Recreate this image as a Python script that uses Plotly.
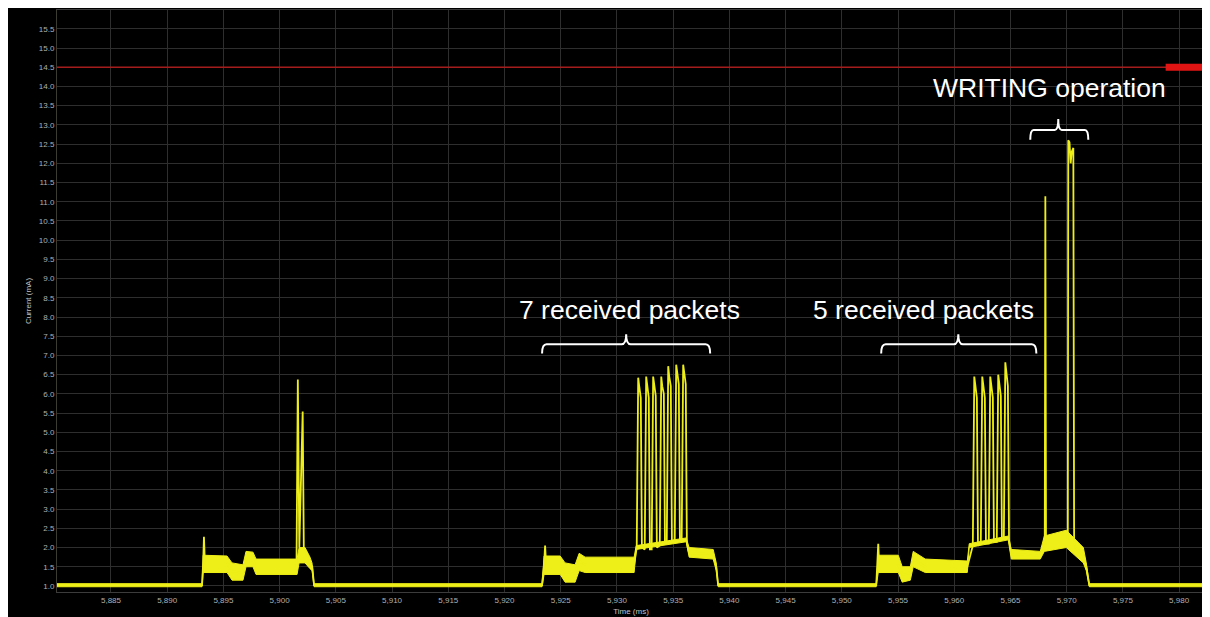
import plotly.graph_objects as go

# ---------------- data ----------------
x_tick_values = [5885, 5890, 5895, 5900, 5905, 5910, 5915, 5920, 5925, 5930,
                 5935, 5940, 5945, 5950, 5955, 5960, 5965, 5970, 5975, 5980]
x_tick_labels = ["5,885", "5,890", "5,895", "5,900", "5,905", "5,910", "5,915", "5,920",
                 "5,925", "5,930", "5,935", "5,940", "5,945", "5,950", "5,955", "5,960",
                 "5,965", "5,970", "5,975", "5,980"]

# envelope of the noisy current band (time ms, lower / upper current mA)
band_time = [5880.2, 5893.10, 5893.20, 5895.32, 5895.77, 5896.74, 5897.01, 5897.63, 5897.90,
             5901.55, 5901.73, 5902.26, 5902.70, 5902.88, 5903.06,
             5923.34, 5923.52, 5924.95, 5925.39, 5926.28, 5926.64, 5927.17, 5931.53, 5931.71,
             5936.16, 5936.42, 5938.56, 5938.83, 5939.00,
             5953.06, 5953.24, 5955.02, 5955.37, 5956.09, 5956.35, 5957.42, 5961.16, 5961.33,
             5964.80, 5965.07, 5967.65, 5968.01, 5969.96, 5970.77, 5971.48, 5971.74, 5972.01, 5982.3]
band_low = [0.98, 0.98, 1.35, 1.35, 1.15, 1.15, 1.5, 1.5, 1.3,
            1.3, 1.6, 1.6, 1.45, 1.4, 0.98,
            0.98, 1.3, 1.3, 1.1, 1.1, 1.4, 1.35, 1.35, 1.95,
            2.15, 1.75, 1.7, 1.4, 0.98,
            0.98, 1.35, 1.35, 1.1, 1.15, 1.5, 1.35, 1.35, 2.0,
            2.2, 1.7, 1.7, 1.9, 2.0, 1.8, 1.6, 1.4, 0.98, 0.98]
band_high = [1.06, 1.06, 1.8, 1.78, 1.6, 1.55, 1.9, 1.88, 1.7,
             1.7, 2.0, 2.0, 1.75, 1.6, 1.06,
             1.06, 1.78, 1.78, 1.6, 1.55, 1.85, 1.75, 1.75, 2.05,
             2.25, 2.0, 1.95, 1.6, 1.06,
             1.06, 1.8, 1.8, 1.5, 1.5, 1.9, 1.7, 1.65, 2.1,
             2.3, 1.95, 1.9, 2.3, 2.45, 2.2, 2.0, 1.6, 1.06, 1.06]

# trace centre line with spikes and packets (time ms, current mA)
trace_time_ms = [
    5880.2, 5893.10, 5893.20, 5893.27, 5893.35, 5895.3, 5895.8, 5896.7, 5897.0, 5897.6, 5897.9,
    5901.5, 5901.62, 5901.75, 5902.05, 5902.15, 5902.4, 5902.7, 5902.9, 5903.06,
    5923.34, 5923.52, 5923.61, 5923.7, 5924.95, 5925.4, 5926.3, 5926.6, 5927.2, 5931.53,
    5931.76, 5931.89, 5931.98, 5932.12, 5932.22,
    5932.47, 5932.60, 5932.69, 5932.83, 5932.93,
    5933.09, 5933.22, 5933.31, 5933.45, 5933.55,
    5933.81, 5933.94, 5934.03, 5934.17, 5934.27,
    5934.43, 5934.56, 5934.65, 5934.79, 5934.89,
    5935.14, 5935.27, 5935.36, 5935.50, 5935.60,
    5935.76, 5935.89, 5935.98, 5936.12, 5936.22,
    5936.42, 5938.56, 5938.83, 5939.00,
    5953.06, 5953.15, 5953.24, 5953.32, 5955.0, 5955.4, 5956.1, 5956.35, 5957.4, 5961.16,
    5961.65, 5961.78, 5961.87, 5962.01, 5962.11,
    5962.36, 5962.49, 5962.58, 5962.72, 5962.82,
    5963.07, 5963.20, 5963.29, 5963.43, 5963.53,
    5963.78, 5963.91, 5964.00, 5964.14, 5964.24,
    5964.41, 5964.54, 5964.63, 5964.77, 5964.87,
    5965.07, 5967.65, 5967.95, 5968.05, 5968.10, 5968.16, 5969.96, 5970.10, 5970.14,
    5970.25, 5970.35, 5970.45, 5970.59, 5970.66, 5970.77, 5971.48, 5971.74, 5972.01, 5982.3]
trace_current_ma = [
    1.02, 1.02, 1.6, 2.28, 1.6, 1.6, 1.38, 1.35, 1.7, 1.7, 1.5,
    1.5, 6.37, 2.0, 5.54, 2.0, 1.85, 1.6, 1.5, 1.02,
    1.02, 1.55, 2.05, 1.55, 1.55, 1.35, 1.33, 1.65, 1.55, 1.55,
    2.0, 6.42, 6.2, 5.9, 2.0,
    1.95, 6.45, 6.2, 5.9, 1.95,
    1.95, 6.45, 6.2, 5.95, 2.0,
    2.05, 6.45, 6.2, 6.0, 2.1,
    2.1, 6.72, 6.45, 6.2, 2.15,
    2.2, 6.76, 6.5, 6.25, 2.2,
    2.25, 6.76, 6.5, 6.25, 2.1,
    1.85, 1.83, 1.5, 1.02,
    1.02, 1.55, 2.1, 1.55, 1.55, 1.3, 1.32, 1.7, 1.5, 1.5,
    2.05, 6.45, 6.2, 5.9, 2.05,
    2.1, 6.45, 6.2, 5.9, 2.1,
    2.1, 6.45, 6.2, 5.9, 2.15,
    2.15, 6.5, 6.25, 5.95, 2.2,
    2.25, 6.82, 6.5, 6.2, 2.2,
    1.82, 1.8, 2.1, 2.15, 11.14, 2.2, 2.2, 2.2, 12.6,
    12.55, 12.0, 12.3, 12.4, 2.2, 2.0, 1.8, 1.5, 1.02, 1.02]

threshold_ma = 14.5
cursor_time_ms = [5978.8, 5982.3]

# annotations: label, centre time, label height, brace start/end/tip time, brace heights
note_labels = ["7 received packets", "5 received packets", "WRITING operation"]
note_time = [5931.1, 5957.3, 5968.5]
note_current = [8.17, 8.17, 13.96]
brace_start = [5923.34, 5953.5, 5966.76]
brace_end = [5938.29, 5967.3, 5971.92]
brace_tip = [5930.82, 5960.36, 5969.25]
brace_end_y = [7.05, 7.05, 12.61]
brace_bar_y = [7.29, 7.29, 12.87]
brace_tip_y = [7.55, 7.55, 13.15]

# ---------------- figure ----------------
YELLOW = "rgb(238,238,24)"
fig = go.Figure()

fig.add_trace(go.Scatter(x=band_time, y=band_low, mode="lines",
                         line=dict(color=YELLOW, width=1), hoverinfo="skip"))
fig.add_trace(go.Scatter(x=band_time, y=band_high, mode="lines", fill="tonexty",
                         fillcolor=YELLOW, line=dict(color=YELLOW, width=1), hoverinfo="skip"))
fig.add_trace(go.Scatter(x=trace_time_ms, y=trace_current_ma, mode="lines",
                         line=dict(color=YELLOW, width=1.8)))

# threshold line and its cursor handle
fig.add_trace(go.Scatter(x=[5880.2, 5982.3], y=[threshold_ma, threshold_ma], mode="lines",
                         line=dict(color="rgb(165,28,28)", width=1.3), hoverinfo="skip"))
fig.add_trace(go.Scatter(x=cursor_time_ms, y=[threshold_ma, threshold_ma], mode="lines",
                         line=dict(color="rgb(225,20,20)", width=7), hoverinfo="skip"))


def brace_path(x0, x1, xm, ye, yb, yt, rx):
    return (f"M {x0},{ye} Q {x0},{yb} {x0 + rx},{yb} L {xm - rx},{yb} "
            f"Q {xm},{yb} {xm},{yt} Q {xm},{yb} {xm + rx},{yb} "
            f"L {x1 - rx},{yb} Q {x1},{yb} {x1},{ye}")


for i, lab in enumerate(note_labels):
    rx = 0.3 if i == 2 else 0.4
    fig.add_shape(type="path", xref="x", yref="y",
                  path=brace_path(brace_start[i], brace_end[i], brace_tip[i],
                                  brace_end_y[i], brace_bar_y[i], brace_tip_y[i], rx),
                  line=dict(color="white", width=2))
    fig.add_annotation(x=note_time[i], y=note_current[i], text=lab, showarrow=False,
                       xref="x", yref="y", xanchor="center", yanchor="middle",
                       font=dict(family="Liberation Sans, Arial", size=26.5, color="white"))

tick_font = dict(family="Liberation Sans, Arial", size=8, color="#b0b0b0")
title_font = dict(family="Liberation Sans, Arial", size=8, color="#c0c0c0")

fig.update_layout(
    template="none",
    width=1202, height=609,
    margin=dict(l=49, r=5, t=2, b=25),
    paper_bgcolor="black", plot_bgcolor="black",
    showlegend=False,
    xaxis=dict(range=[5880.2, 5982.3], tickmode="array", tickvals=x_tick_values,
               ticktext=x_tick_labels, showgrid=True, gridcolor="#2e2e2e", gridwidth=1,
               zeroline=False, ticks="", tickfont=tick_font, showline=True,
               linecolor="#3c3c3c", mirror=True, automargin=False,
               title=dict(text="Time (ms)", font=title_font, standoff=4)),
    yaxis=dict(range=[0.843, 15.99], tickmode="linear", tick0=1.0, dtick=0.5,
               tickformat=".1f", showgrid=True, gridcolor="#2e2e2e", gridwidth=1,
               zeroline=False, ticks="", tickfont=tick_font, showline=True,
               linecolor="#3c3c30", mirror=True, automargin=False,
               title=dict(text="Current (mA)", font=title_font, standoff=6)),
)

fig.write_html("out.html")
